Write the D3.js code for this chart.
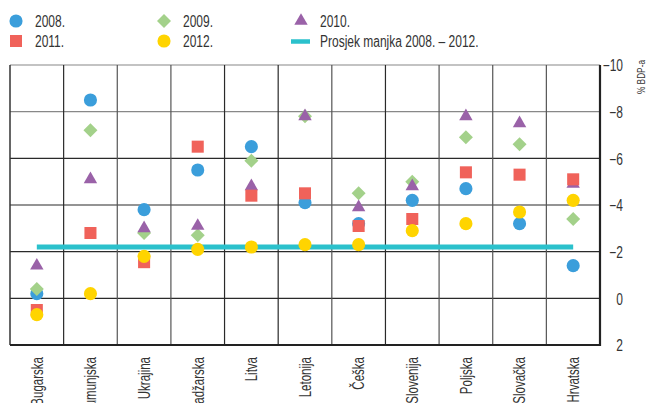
<!DOCTYPE html>
<html><head><meta charset="utf-8">
<script src="https://cdn.jsdelivr.net/npm/d3@7"></script>
<style>
body{margin:0;background:#fff;}
svg{display:block;font-family:"Liberation Sans",Arial,sans-serif;}
</style></head><body>
<svg id="c" width="653" height="403"></svg>
<script>
const categories = ["Bugarska","Rumunjska","Ukrajina","Madžarska","Litva","Letonija","Češka","Slovenija","Poljska","Slovačka","Hrvatska"];
const v2008 = [-0.2,-8.5,-3.8,-5.5,-6.5,-4.1,-3.2,-4.2,-4.7,-3.2,-1.4];
const v2009 = [-0.4,-7.2,-2.8,-2.7,-5.9,-7.8,-4.5,-5.0,-6.9,-6.6,-3.4];
const v2010 = [-1.4,-5.1,-3.0,-3.1,-4.8,-7.8,-3.9,-4.8,-7.8,-7.5,-4.9];
const v2011 = [0.5,-2.8,-1.55,-6.5,-4.4,-4.5,-3.1,-3.4,-5.4,-5.3,-5.1];
const v2012 = [0.7,-0.2,-1.8,-2.1,-2.2,-2.3,-2.3,-2.9,-3.2,-3.7,-4.2];
const average = -2.2;
const yTicks = [-10,-8,-6,-4,-2,0,2];
const seriesNames = ["2008.","2009.","2010.","2011.","2012."];
const avgName = "Prosjek manjka 2008. – 2012.";
const unitLabel = "% BDP-a";

const colors = {"2008.":"#3b9edb","2009.":"#a3d18a","2010.":"#9a62a8","2011.":"#f0625a","2012.":"#ffd400",avg:"#2bc1cc"};
const symbols = {"2008.":d3.symbolCircle,"2009.":d3.symbolDiamond2,"2010.":d3.symbolTriangle,"2011.":d3.symbolSquare2,"2012.":d3.symbolCircle};
const sizes = {"2008.":135,"2009.":125,"2010.":78,"2011.":185,"2012.":135};
const seriesData = [v2008,v2009,v2010,v2011,v2012];

const SX = 0.75; // horizontal condensing of text
const svg = d3.select("#c");
const L=10,R=600,T=65,B=345;
const x = d3.scaleBand().domain(categories).range([L,R]);
const y = d3.scaleLinear().domain([-10,2]).range([T,B]);
const fmt = d => (d<0?"\u2212":"")+Math.abs(d);

// grid
const grid = svg.append("g");
grid.selectAll(".hg").data(yTicks).join("line")
  .attr("x1",L).attr("x2",R).attr("y1",d=>y(d)).attr("y2",d=>y(d))
  .attr("stroke",(d,i)=>i<2?"#888":"#2a2a2a").attr("stroke-width",1.2);
const vlines = categories.slice(1).map(c=>x(c));
grid.selectAll(".vg").data(vlines).join("line")
  .attr("x1",d=>d).attr("x2",d=>d).attr("y1",T).attr("y2",B)
  .attr("stroke",(d,i)=>[0,3,4,6].includes(i)?"#2a2a2a":"#555").attr("stroke-width",1.2);
// frame
svg.append("line").attr("x1",L).attr("x2",L).attr("y1",T).attr("y2",B).attr("stroke","#333").attr("stroke-width",1.5);
svg.append("line").attr("x1",R).attr("x2",R).attr("y1",T).attr("y2",B+1).attr("stroke","#222").attr("stroke-width",2.2);
svg.append("line").attr("x1",L).attr("x2",R).attr("y1",B).attr("y2",B).attr("stroke","#222").attr("stroke-width",2.2);

// right axis
const ya = svg.append("g").attr("transform",`translate(${R},0)`)
  .call(d3.axisRight(y).tickValues(yTicks).tickSize(0).tickFormat(fmt));
ya.select(".domain").remove();
ya.selectAll("text").attr("text-anchor","end").attr("x",0).attr("dy","0.36em")
  .attr("transform",`translate(23,0) scale(${SX},1)`)
  .style("font-size","16px").attr("fill","#333").attr("font-family",null);
svg.append("text").attr("transform","translate(645,60) rotate(-90) scale(0.72,1)").attr("text-anchor","end")
  .style("font-size","11.5px").attr("fill","#333").text(unitLabel);

// bottom axis labels
const xa = svg.append("g").attr("transform",`translate(0,${B})`)
  .call(d3.axisBottom(x).tickSize(0).tickPadding(0));
xa.select(".domain").remove();
xa.selectAll("text").attr("transform",`translate(0,12) rotate(-90) scale(0.72,1)`).attr("text-anchor","end")
  .attr("x",0).attr("y",0).attr("dy","0.36em").style("font-size","16px").attr("fill","#333").attr("font-family",null);

// average line
svg.append("line").attr("x1",x(categories[0])+x.bandwidth()/2).attr("x2",x(categories[categories.length-1])+x.bandwidth()/2)
  .attr("y1",y(average)).attr("y2",y(average)).attr("stroke",colors.avg).attr("stroke-width",5);

// points
seriesNames.forEach((s,k)=>{
  svg.append("g").selectAll("path").data(seriesData[k]).join("path")
    .attr("transform",(d,i)=>`translate(${x(categories[i])+x.bandwidth()/2},${y(d)})`)
    .attr("d",d3.symbol(symbols[s],sizes[s])).attr("fill",colors[s]);
});

// legend
const leg = [
  {n:"2008.",x:16,y:21},{n:"2009.",x:164,y:21},{n:"2010.",x:301,y:21},
  {n:"2011.",x:16,y:41},{n:"2012.",x:164,y:41}
];
const lg = svg.append("g");
leg.forEach(l=>{
  lg.append("path").attr("transform",`translate(${l.x},${l.y})`).attr("d",d3.symbol(symbols[l.n],sizes[l.n])).attr("fill",colors[l.n]);
  lg.append("text").attr("transform",`translate(${l.x+19},${l.y}) scale(${SX},1)`).attr("dy","0.36em").style("font-size","16px").attr("fill","#333").text(l.n);
});
lg.append("line").attr("x1",291).attr("x2",310).attr("y1",41.5).attr("y2",41.5).attr("stroke",colors.avg).attr("stroke-width",4.5);
lg.append("text").attr("transform",`translate(320,41) scale(${SX},1)`).attr("dy","0.36em").style("font-size","16px").attr("fill","#333").text(avgName);
</script></body></html>
